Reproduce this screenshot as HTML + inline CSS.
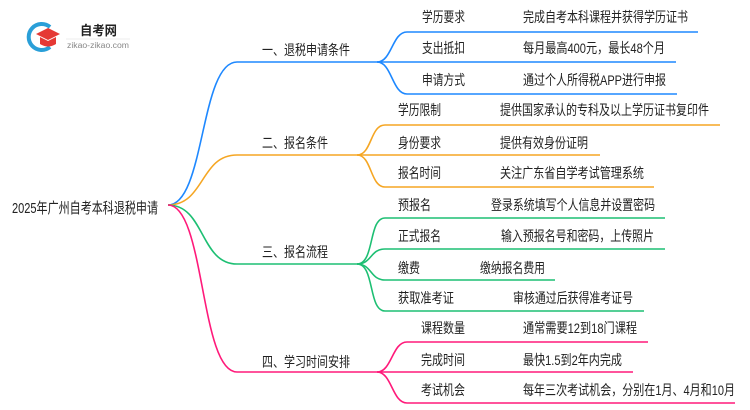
<!DOCTYPE html>
<html><head><meta charset="utf-8"><style>
html,body{margin:0;padding:0;background:#fff;width:750px;height:410px;overflow:hidden}
svg{display:block}
text{font-family:"Liberation Sans","Noto Sans CJK SC",sans-serif;fill:#222}
</style></head><body>
<svg width="750" height="410" viewBox="0 0 750 410" xmlns="http://www.w3.org/2000/svg">
<!-- logo -->
<path d="M50 27 A13 13 0 1 0 50 47" fill="none" stroke="#2a9fd8" stroke-width="4"/>
<path d="M36 34 L48 28 L60 34 L48 40 Z" fill="#e53935"/>
<path d="M40 37 L40 44 Q48 49 56 44 L56 37 L48 41 Z" fill="#e53935"/>
<text x="80" y="35" font-size="13" font-weight="bold" fill="#333" textLength="37" lengthAdjust="spacingAndGlyphs">自考网</text>
<line x1="66" y1="39" x2="130" y2="39" stroke="#ddd" stroke-width="0.6"/>
<text x="67" y="48" font-size="8" style="fill:#888" textLength="62" lengthAdjust="spacingAndGlyphs">zikao-zikao.com</text>

<text x="12" y="213" font-size="15" textLength="146" lengthAdjust="spacingAndGlyphs">2025年广州自考本科退税申请</text>

<g fill="none" stroke-width="1.6">
<path d="M168 205 C205 205 200 62 237 62 L377 62" stroke="#1e88ff"/>
<path d="M168 205 C205 205 200 155 237 155 L357 155" stroke="#f5a623"/>
<path d="M168 205 C205 205 200 264 237 264 L357 264" stroke="#1dbf73"/>
<path d="M168 205 C205 205 200 372 237 372 L377 372" stroke="#ff1a7a"/>
<g stroke="#1e88ff">
<path d="M377 62 C392 62 392 32 407 32 L698 32"/>
<path d="M377 62 L676 62"/>
<path d="M377 62 C392 62 392 94 407 94 L677 94"/>
</g>
<g stroke="#f5a623">
<path d="M357 155 C372 155 370 125 385 125 L720 125"/>
<path d="M357 155 L600 155"/>
<path d="M357 155 C372 155 370 187 385 187 L654 187"/>
</g>
<g stroke="#1dbf73">
<path d="M357 264 C375 264 368 218 385 218 L665 218"/>
<path d="M357 264 C372 264 370 249 385 249 L665 249"/>
<path d="M357 264 C372 264 370 280 385 280 L555 280"/>
<path d="M357 264 C375 264 368 311 385 311 L644 311"/>
</g>
<g stroke="#ff1a7a">
<path d="M377 372 C392 372 392 342 407 342 L648 342"/>
<path d="M377 372 L633 372"/>
<path d="M377 372 C392 372 392 403 407 403 L735 403"/>
</g>
</g>

<g font-size="14" lengthAdjust="spacingAndGlyphs">
<text x="262" y="55" textLength="88" lengthAdjust="spacingAndGlyphs">一、退税申请条件</text>
<text x="262" y="148" textLength="66" lengthAdjust="spacingAndGlyphs">二、报名条件</text>
<text x="262" y="257" textLength="66" lengthAdjust="spacingAndGlyphs">三、报名流程</text>
<text x="262" y="367" textLength="88" lengthAdjust="spacingAndGlyphs">四、学习时间安排</text>

<text x="422" y="22" textLength="43" lengthAdjust="spacingAndGlyphs">学历要求</text><text x="523" y="22" textLength="165" lengthAdjust="spacingAndGlyphs">完成自考本科课程并获得学历证书</text>
<text x="422" y="53" textLength="43" lengthAdjust="spacingAndGlyphs">支出抵扣</text><text x="523" y="53" textLength="142" lengthAdjust="spacingAndGlyphs">每月最高400元，最长48个月</text>
<text x="422" y="85" textLength="43" lengthAdjust="spacingAndGlyphs">申请方式</text><text x="523" y="85" textLength="143" lengthAdjust="spacingAndGlyphs">通过个人所得税APP进行申报</text>

<text x="398" y="115" textLength="43" lengthAdjust="spacingAndGlyphs">学历限制</text><text x="500" y="115" textLength="209" lengthAdjust="spacingAndGlyphs">提供国家承认的专科及以上学历证书复印件</text>
<text x="398" y="148" textLength="43" lengthAdjust="spacingAndGlyphs">身份要求</text><text x="500" y="148" textLength="88" lengthAdjust="spacingAndGlyphs">提供有效身份证明</text>
<text x="398" y="178" textLength="43" lengthAdjust="spacingAndGlyphs">报名时间</text><text x="500" y="178" textLength="144" lengthAdjust="spacingAndGlyphs">关注广东省自学考试管理系统</text>

<text x="398" y="210" textLength="33" lengthAdjust="spacingAndGlyphs">预报名</text><text x="491" y="210" textLength="164" lengthAdjust="spacingAndGlyphs">登录系统填写个人信息并设置密码</text>
<text x="398" y="241" textLength="43" lengthAdjust="spacingAndGlyphs">正式报名</text><text x="501" y="241" textLength="153" lengthAdjust="spacingAndGlyphs">输入预报名号和密码，上传照片</text>
<text x="398" y="273" textLength="22" lengthAdjust="spacingAndGlyphs">缴费</text><text x="480" y="273" textLength="65" lengthAdjust="spacingAndGlyphs">缴纳报名费用</text>
<text x="398" y="303" textLength="56" lengthAdjust="spacingAndGlyphs">获取准考证</text><text x="513" y="303" textLength="120" lengthAdjust="spacingAndGlyphs">审核通过后获得准考证号</text>

<text x="421" y="333" textLength="44" lengthAdjust="spacingAndGlyphs">课程数量</text><text x="523" y="333" textLength="114" lengthAdjust="spacingAndGlyphs">通常需要12到18门课程</text>
<text x="421" y="365" textLength="44" lengthAdjust="spacingAndGlyphs">完成时间</text><text x="523" y="365" textLength="99" lengthAdjust="spacingAndGlyphs">最快1.5到2年内完成</text>
<text x="421" y="395" textLength="44" lengthAdjust="spacingAndGlyphs">考试机会</text><text x="523" y="395" textLength="212" lengthAdjust="spacingAndGlyphs">每年三次考试机会，分别在1月、4月和10月</text>
</g>
</svg>
</body></html>
